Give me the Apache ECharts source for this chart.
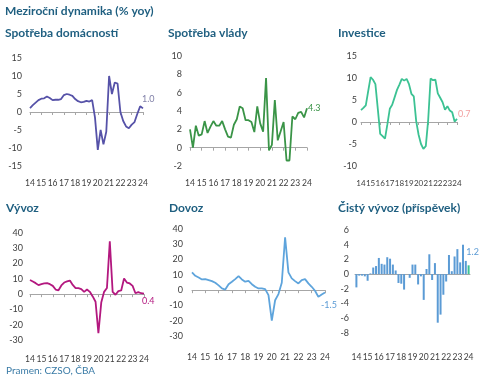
<!DOCTYPE html>
<html><head><meta charset="utf-8">
<script src="https://cdn.jsdelivr.net/npm/echarts@6/dist/echarts.min.js"></script>
<style>html,body{margin:0;padding:0;background:#fff}#c{width:500px;height:381px}</style>
</head><body><div id="c"></div>
<script>
// Tick labels (years) and quarterly categories 2014Q1..2024Q1
const yearLabels = ['14','15','16','17','18','19','20','21','22','23','24'];
const quarters = [];
yearLabels.forEach(y => ['Q1','Q2','Q3','Q4'].forEach(q => quarters.push(y + q)));
quarters.length = 41;

// Series values (% yoy)
const household = [1.1,1.9,2.6,3.3,3.7,3.8,4.3,3.9,3.3,3.4,3.4,3.6,4.7,5.0,4.8,4.5,3.6,3.0,2.7,2.8,3.1,2.9,3.3,-1.5,-10.5,-5.0,-9.0,-5.5,10.0,5.0,8.2,7.9,0.0,-2.5,-4.0,-4.5,-3.5,-2.8,-0.5,1.6,1.0];
const government = [2.0,0.0,2.4,1.3,1.45,2.9,1.6,2.3,2.9,2.4,2.4,2.9,2.0,1.2,1.1,2.5,3.1,4.5,4.3,3.0,3.0,2.8,1.7,4.5,2.65,1.75,7.6,-0.3,0.3,5.2,0.8,1.8,2.8,-1.4,-1.4,3.4,3.1,3.8,3.9,3.3,4.3];
const investment = [2.7,3.2,3.8,7.0,10.2,9.6,8.6,3.0,-2.7,-3.2,-3.8,-0.5,3.0,3.9,5.6,7.3,8.5,9.8,9.4,9.8,8.6,6.4,5.8,0.2,-2.9,-5.0,-6.1,-5.5,0.5,9.9,9.5,9.6,6.5,5.5,4.5,2.8,3.6,2.6,2.2,0.1,0.7];
const exportsYoy = [9.3,8.3,7.2,5.9,6.5,7.0,7.2,6.5,5.4,3.0,2.5,5.7,7.6,8.3,8.9,6.0,3.9,3.9,3.3,1.5,3.0,1.5,-1.5,-5.0,-25.5,-5.5,1.5,4.0,34.5,1.5,-0.4,2.0,2.4,10.2,7.6,7.0,5.4,0.6,1.3,0.6,0.4];
const importsYoy = [11.6,9.4,8.3,7.0,7.2,6.6,5.9,4.8,3.1,1.1,0.4,3.9,5.5,7.2,9.2,7.0,5.5,6.1,3.9,2.2,1.1,1.1,0.7,-3.3,-20.0,-6.6,-2.6,4.8,34.6,11.6,7.7,5.9,4.4,6.6,7.2,4.4,2.2,-0.4,-4.4,-2.8,-1.5];
const netExports = [-1.8,-0.2,-0.2,-0.3,-0.9,0.1,0.9,1.1,2.2,1.4,1.3,2.3,2.1,1.3,0.5,-1.2,-1.3,-2.1,0.0,-0.5,1.3,1.3,-1.4,-0.3,-3.5,0.7,2.7,-0.8,1.5,-6.6,-5.5,-2.8,-1.0,2.6,0.4,2.4,3.4,1.6,4.0,1.8,1.2];

const panelTitles = ['Spotřeba domácností','Spotřeba vlády','Investice','Vývoz','Dovoz','Čistý vývoz (příspěvek)'];
const mainTitle = 'Meziroční dynamika (% yoy)';
const sourceText = 'Pramen: CZSO, ČBA';

const FONT = 'Lato, "Open Sans", sans-serif';
const TITLE_COLOR = '#1f5f80';

const panels = [
  {data: household, type:'line', color:'#5652a8', grid:{left:30, top:58, width:113, height:108}, min:-15, max:15, step:5, ylm:8, xlm:13, xfs:8.5,
   lab:{color:'#8080a8', offset:[-1,-9]}},
  {data: government, type:'line', color:'#3a9447', grid:{left:190, top:56, width:117, height:110}, min:-2, max:10, step:2, ylm:8, xlm:13, xfs:8.5,
   lab:{color:'#3a9447', offset:[1,0]}},
  {data: investment, type:'line', color:'#3cc293', grid:{left:361, top:56, width:96, height:110}, min:-10, max:15, step:5, ylm:4, xlm:13, xfs:8,
   lab:{color:'#f2a0a0', offset:[1,-5]}},
  {data: exportsYoy, type:'line', color:'#b3187f', grid:{left:30, top:233, width:114, height:107}, min:-30, max:40, step:10, ylm:7, xlm:15, xfs:8.5,
   lab:{color:'#b3187f', offset:[-2,8]}},
  {data: importsYoy, type:'line', color:'#5ea4dc', grid:{left:192, top:229, width:133, height:107}, min:-30, max:40, step:10, ylm:9, xlm:17, xfs:8.5,
   lab:{color:'#5b9bd5', offset:[-4,13]}},
  {data: netExports, type:'bar', color:'#5b9bd5', lastColor:'#3cc293', grid:{left:355, top:230, width:115, height:103}, min:-8, max:6, step:2, ylm:6, xlm:20, xfs:8.5,
   lab:{color:'#5b9bd5', offset:[4,-4]}}
];

const titlePos = [[5,27],[168,27],[338,27],[6,202],[169,202],[338,202]];

const option = {
  backgroundColor:'#ffffff',
  animation:false,
  title: [
    {text: mainTitle, left:5, top:5, padding:0, textStyle:{fontFamily:FONT, fontSize:12, fontWeight:'bold', color:TITLE_COLOR}},
    ...panelTitles.map((t,i)=>({text:t, left:titlePos[i][0], top:titlePos[i][1], padding:0,
      textStyle:{fontFamily:FONT, fontSize:12, fontWeight:'bold', color:TITLE_COLOR}})),
    {text: sourceText, left:6, top:366, padding:0, textStyle:{fontFamily:FONT, fontSize:10, fontWeight:'normal', color:'#3a7ba6'}}
  ],
  grid: panels.map(p => Object.assign({containLabel:false}, p.grid)),
  xAxis: [], yAxis: [], series: []
};

panels.forEach((p, i) => {
  const isBar = p.type === 'bar';
  option.xAxis.push({
    gridIndex:i, type:'category', data:quarters, boundaryGap:isBar, position:'bottom',
    axisLine:{show:false, onZero:false}, axisTick:{show:false}, splitLine:{show:false},
    axisLabel:{interval:3, margin:p.xlm, fontFamily:FONT, fontSize:p.xfs, color:'#404040', formatter:v=>v.slice(0,2)}
  });
  option.xAxis.push({
    gridIndex:i, type:'category', data:quarters, boundaryGap:isBar, position:'bottom',
    axisLine:{show:true, onZero:true, lineStyle:{color:'#a6a6a6', width:1}},
    axisTick:{show:!isBar, interval:3, length:3, lineStyle:{color:'#a6a6a6'}},
    axisLabel:{show:false}, splitLine:{show:false}
  });
  option.yAxis.push({
    gridIndex:i, type:'value', min:p.min, max:p.max, interval:p.step,
    axisLine:{show:false}, axisTick:{show:false}, splitLine:{show:false},
    axisLabel:{margin:p.ylm, fontFamily:FONT, fontSize:9, color:'#404040'}
  });
  const last = p.data.length - 1;
  const lastVal = p.data[last].toFixed(1);
  const s = {type:p.type, xAxisIndex:2*i+1, yAxisIndex:i, silent:true};
  if (isBar) {
    s.data = p.data.map((v, k) => k !== last ? v : {value:v, itemStyle:{color:p.lastColor},
      label:{show:true, position:'top', distance:5, offset:p.lab.offset, color:p.lab.color, fontFamily:FONT, fontSize:9, formatter:()=>lastVal}});
    Object.assign(s, {barWidth:2, itemStyle:{color:p.color}});
  } else {
    s.data = p.data;
    Object.assign(s, {symbol:'none', lineStyle:{color:p.color, width:1.8}, itemStyle:{color:p.color},
      endLabel:{show:true, distance:0, offset:p.lab.offset, color:p.lab.color, fontFamily:FONT, fontSize:9, formatter:()=>lastVal}});
  }
  option.series.push(s);
});

const chart = echarts.init(document.getElementById('c'), null, {renderer:'canvas'});
chart.setOption(option);
</script>
</body></html>
